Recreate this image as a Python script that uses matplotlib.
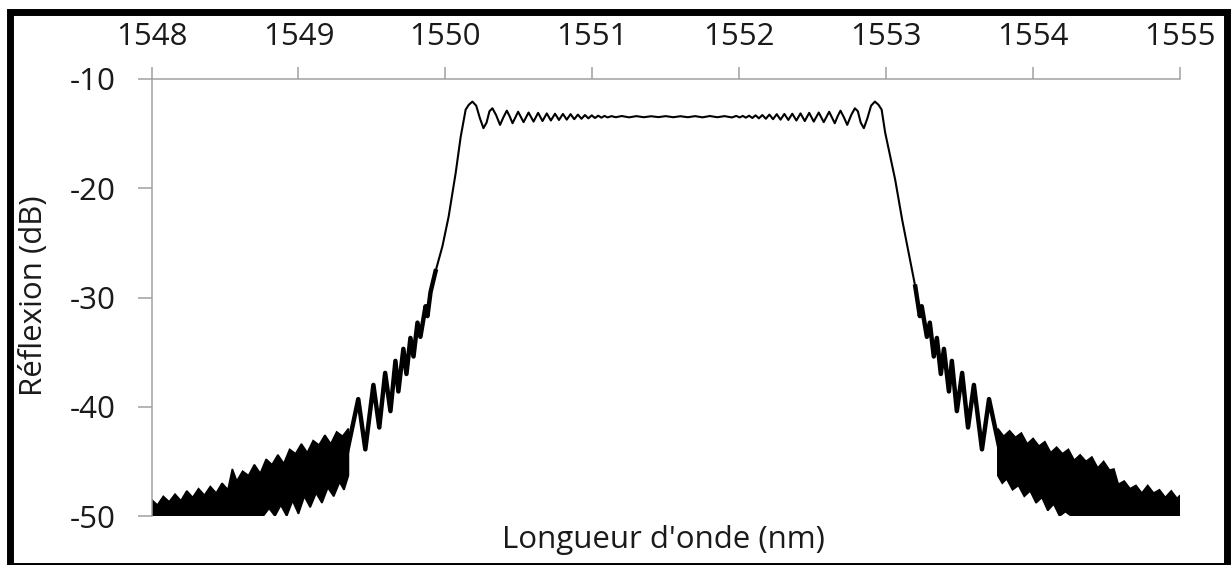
import matplotlib
matplotlib.use('Agg')
import matplotlib.pyplot as plt
import matplotlib.patches as mpatches

plt.rcParams['font.family'] = ['Open Sans', 'DejaVu Sans']
plt.rcParams['axes.unicode_minus'] = False

TEXT = '#1a1a1a'
AXIS = '#a0a0a0'

# reflection curve: slopes + plateau ripple (nm, dB)
wl_curve = [
    1549.330, 1549.407, 1549.455, 1549.510, 1549.550, 1549.590, 1549.626, 1549.660,
    1549.680, 1549.714, 1549.735, 1549.762, 1549.783, 1549.810, 1549.830, 1549.865,
    1549.878, 1549.899, 1549.933, 1549.980, 1550.022, 1550.070, 1550.104, 1550.138,
    1550.160, 1550.184, 1550.210, 1550.235, 1550.259, 1550.280, 1550.300, 1550.320,
    1550.345, 1550.372, 1550.395, 1550.418, 1550.437, 1550.457, 1550.495, 1550.532,
    1550.566, 1550.600, 1550.631, 1550.661, 1550.690, 1550.718, 1550.746, 1550.773,
    1550.800, 1550.826, 1550.852, 1550.877, 1550.902, 1550.926, 1550.950, 1550.973,
    1550.996, 1551.018, 1551.040, 1551.062, 1551.083, 1551.104,
    1551.130, 1551.160, 1551.200, 1551.250, 1551.300, 1551.350, 1551.400, 1551.450,
    1551.500, 1551.550, 1551.600, 1551.650, 1551.700, 1551.750, 1551.800, 1551.850,
    1551.900, 1551.950, 1551.980,
    1552.003, 1552.024, 1552.045, 1552.067, 1552.089, 1552.111, 1552.134, 1552.157,
    1552.181, 1552.205, 1552.230, 1552.255, 1552.281, 1552.307, 1552.334, 1552.361,
    1552.389, 1552.417, 1552.446, 1552.476, 1552.507, 1552.541, 1552.575, 1552.612,
    1552.650, 1552.670, 1552.689, 1552.712, 1552.735, 1552.762, 1552.787, 1552.807,
    1552.827, 1552.848, 1552.872, 1552.897, 1552.923, 1552.947, 1552.969, 1552.993,
    1553.061, 1553.109, 1553.157, 1553.198, 1553.229, 1553.242, 1553.277, 1553.297,
    1553.324, 1553.345, 1553.372, 1553.393, 1553.427, 1553.447, 1553.481, 1553.517,
    1553.557, 1553.597, 1553.652, 1553.700, 1553.777,
]
r_curve = [
    -44.2, -39.3, -43.9, -38.0, -41.9, -36.9, -40.4, -35.8,
    -38.6, -34.7, -37.0, -33.7, -35.4, -32.3, -33.6, -30.8,
    -31.7, -29.5, -27.6, -25.3, -22.6, -18.6, -15.3, -12.8,
    -12.35, -12.07, -12.45, -13.6, -14.5, -14.0, -12.95, -12.68,
    -13.3, -14.2, -13.5, -12.9, -13.4, -14.05, -13.0, -13.95,
    -13.07, -13.9, -13.1, -13.85, -13.15, -13.8, -13.18, -13.75,
    -13.2, -13.72, -13.22, -13.68, -13.26, -13.64, -13.3, -13.6,
    -13.33, -13.57, -13.36, -13.54, -13.38, -13.52,
    -13.40, -13.50, -13.39, -13.51, -13.40, -13.50, -13.41, -13.49,
    -13.40, -13.50, -13.41, -13.50, -13.40, -13.51, -13.39, -13.50,
    -13.40, -13.52, -13.38,
    -13.52, -13.38, -13.54, -13.36, -13.57, -13.33, -13.6, -13.3,
    -13.64, -13.26, -13.68, -13.22, -13.72, -13.2, -13.75, -13.18,
    -13.8, -13.15, -13.85, -13.1, -13.9, -13.07, -13.95, -13.0,
    -14.05, -13.4, -12.9, -13.5, -14.2, -13.3, -12.68, -12.95,
    -14.0, -14.5, -13.6, -12.45, -12.07, -12.35, -12.8, -14.9,
    -19.2, -22.9, -26.2, -29.0, -31.7, -30.8, -33.6, -32.3,
    -35.4, -33.7, -37.0, -34.7, -38.6, -35.8, -40.4, -36.9,
    -41.9, -38.0, -43.9, -39.3, -44.2,
]

# dense side-lobe bands: jagged upper and lower edges
wl_left_top = [1548.00, 1548.04, 1548.08, 1548.12, 1548.16, 1548.20, 1548.24, 1548.28,
               1548.32, 1548.36, 1548.40, 1548.44, 1548.48, 1548.52, 1548.55, 1548.58,
               1548.62, 1548.66, 1548.70, 1548.74, 1548.78, 1548.82, 1548.86, 1548.90,
               1548.94, 1548.98, 1549.02, 1549.06, 1549.10, 1549.14, 1549.18, 1549.22,
               1549.26, 1549.30, 1549.34]
r_left_top = [-48.5, -49.0, -48.2, -48.7, -48.0, -48.6, -47.7, -48.3,
              -47.5, -48.1, -47.3, -47.9, -47.0, -47.6, -45.7, -46.8,
              -45.9, -46.3, -45.3, -46.1, -44.8, -45.3, -44.4, -45.2,
              -43.9, -44.3, -43.4, -44.2, -43.1, -43.5, -42.6, -43.4,
              -42.3, -42.7, -42.0]
wl_left_bot = [1548.00, 1548.76, 1548.80, 1548.84, 1548.88, 1548.92, 1548.96, 1549.00,
               1549.04, 1549.08, 1549.12, 1549.16, 1549.20, 1549.24, 1549.28, 1549.31,
               1549.34]
r_left_bot = [-50, -50, -49.3, -50, -49.0, -50, -48.6, -49.8,
              -48.2, -49.2, -47.9, -48.8, -47.4, -48.2, -46.9, -47.6,
              -46.3]

wl_right_top = [1553.76, 1553.80, 1553.84, 1553.88, 1553.92, 1553.96, 1554.00, 1554.04,
                1554.08, 1554.12, 1554.16, 1554.20, 1554.24, 1554.28, 1554.32, 1554.36,
                1554.40, 1554.44, 1554.48, 1554.52, 1554.55, 1554.58, 1554.62, 1554.66,
                1554.70, 1554.74, 1554.78, 1554.82, 1554.86, 1554.90, 1554.94, 1554.98,
                1555.00]
r_right_top = [-42.0, -42.7, -42.2, -42.8, -42.4, -43.4, -42.9, -43.6,
               -43.2, -44.2, -43.7, -44.3, -43.9, -44.9, -44.4, -45.0,
               -44.6, -45.6, -45.0, -45.8, -45.7, -47.1, -46.8, -47.5,
               -47.2, -47.9, -47.2, -47.9, -47.6, -48.3, -47.7, -48.4,
               -48.1]
wl_right_bot = [1553.76, 1553.79, 1553.82, 1553.86, 1553.90, 1553.94, 1553.98, 1554.02,
                1554.06, 1554.10, 1554.14, 1554.18, 1554.22, 1554.26, 1555.00]
r_right_bot = [-46.3, -47.0, -46.6, -47.6, -47.2, -48.2, -47.7, -48.8,
               -48.3, -49.5, -48.9, -50, -49.6, -50, -50]

xticks = [1548, 1549, 1550, 1551, 1552, 1553, 1554, 1555]
yticks = [-50, -40, -30, -20, -10]

fig = plt.figure(figsize=(12.31, 5.65), dpi=100)
ax = fig.add_axes([0.1231, 0.0867, 0.9586 - 0.1231, 0.8602 - 0.0867])

ax.plot(wl_curve, r_curve, color='black', lw=1.5, solid_joinstyle='round')
# the noisy parts of the slopes look thicker
ax.plot(wl_curve[:19], r_curve[:19], color='black', lw=3.2, solid_joinstyle='round')
ax.plot(wl_curve[-18:], r_curve[-18:], color='black', lw=3.2, solid_joinstyle='round')

ax.fill(wl_left_top + wl_left_bot[::-1], r_left_top + r_left_bot[::-1],
        facecolor='black', edgecolor='black', lw=1.2)
ax.fill(wl_right_top + wl_right_bot[::-1], r_right_top + r_right_bot[::-1],
        facecolor='black', edgecolor='black', lw=1.2)

ax.set_xlim(1548, 1555)
ax.set_ylim(-50, -10)
ax.xaxis.tick_top()
ax.set_xticks(xticks)
ax.set_yticks(yticks)
ax.tick_params(axis='x', direction='out', length=8.6, width=1.1, color=AXIS,
               labelsize=22.5, labelcolor=TEXT, pad=11)
ax.tick_params(axis='y', direction='out', length=10, width=1.1, color=AXIS,
               labelsize=22.5, labelcolor=TEXT, pad=16)
ax.spines['bottom'].set_visible(False)
ax.spines['right'].set_visible(False)
ax.spines['top'].set_color(AXIS)
ax.spines['left'].set_color(AXIS)
ax.spines['top'].set_linewidth(1.1)
ax.spines['left'].set_linewidth(1.1)

fig.text(34 / 1231, 1 - 296 / 565, 'Réflexion (dB)', rotation=90, ha='center', va='center',
         fontsize=22.5, color=TEXT)
fig.text(663 / 1231, 1 - 548 / 565, "Longueur d'onde (nm)", ha='center', va='baseline',
         fontsize=22.5, color=TEXT)

# thick frame around the picture
fig.patches.append(mpatches.Rectangle((9.5 / 1231, -0.5 / 565), (1226.5 - 9.5) / 1231,
                                      (552.5 + 0.5) / 565 + 0.0005, transform=fig.transFigure,
                                      fill=False, edgecolor='black', lw=5.0))

fig.savefig('out.png', dpi=100, facecolor='white')
